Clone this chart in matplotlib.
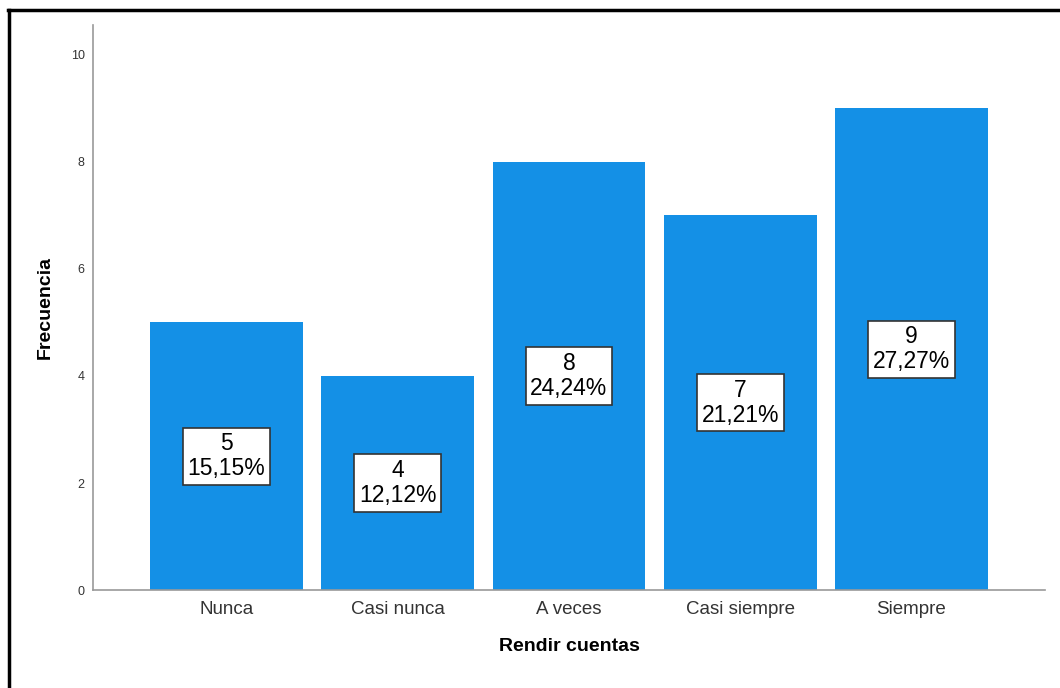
import matplotlib.pyplot as plt
from matplotlib.lines import Line2D

plt.rcParams['font.family'] = ['Liberation Sans', 'DejaVu Sans']

categorias = ['Nunca', 'Casi nunca', 'A veces', 'Casi siempre', 'Siempre']
frecuencia = [5, 4, 8, 7, 9]
porcentaje = ['15,15%', '12,12%', '24,24%', '21,21%', '27,27%']

fig = plt.figure(figsize=(10.6, 6.88), dpi=100)
ax = fig.add_axes([0.0877, 0.1424, 0.8981, 0.8213])

x = list(range(len(categorias)))
ax.bar(x, frecuencia, width=0.893, color='#1490e6', zorder=2)

for xi, f, p in zip(x, frecuencia, porcentaje):
    ax.text(xi, f / 2, f"{f}\n{p}", ha='center', va='center', fontsize=16.5,
            linespacing=1.12, color='black', zorder=3,
            bbox=dict(boxstyle='square,pad=0.2', fc='white', ec='#333333', lw=1.2))

ax.set_xlim(-0.78, 4.78)
ax.set_ylim(0, 10.56)
ax.set_yticks([0, 2, 4, 6, 8, 10])
ax.set_xticks(x)
ax.set_xticklabels(categorias, fontsize=13.5, color='#333333')
ax.tick_params(axis='y', length=0, labelsize=9, colors='#333333', pad=6)
ax.tick_params(axis='x', length=0, pad=8)

for s in ['top', 'right']:
    ax.spines[s].set_visible(False)
for s in ['left', 'bottom']:
    ax.spines[s].set_color('#999999')
    ax.spines[s].set_linewidth(1.2)

ax.set_xlabel('Rendir cuentas', fontsize=14, fontweight='bold', labelpad=14)
ax.set_ylabel('Frecuencia', fontsize=14, fontweight='bold', labelpad=12)

# marco negro del visor
fig.add_artist(Line2D([8 / 1060, 1], [1 - 10 / 688, 1 - 10 / 688], color='black', lw=2.5))
fig.add_artist(Line2D([9 / 1060, 9 / 1060], [0, 1 - 10 / 688], color='black', lw=2.5))

fig.savefig('out.png', dpi=100)
